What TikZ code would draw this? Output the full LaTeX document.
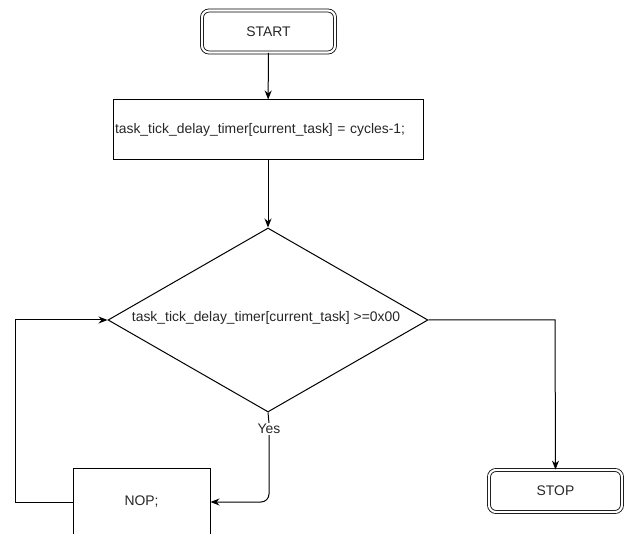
\documentclass[tikz,border=0pt]{standalone}
\usepackage{fontspec}
\setmainfont{Liberation Sans}
\usetikzlibrary{shapes.geometric,arrows.meta}
\begin{document}
\begin{tikzpicture}[x=1pt,y=-1pt,
  every node/.style={font=\fontsize{13.9}{15}\selectfont, text=black!85},
  terminal/.style={draw, rounded corners=7pt, double, double distance=2.2pt, line width=0.8pt,
    minimum width=133pt, minimum height=42pt, inner sep=0pt},
  procbox/.style={draw, line width=1pt, inner sep=0pt},
  decision/.style={draw, diamond, line width=1pt, inner sep=0pt, aspect=1.74,
    minimum width=320pt, minimum height=184pt},
  flow/.style={draw, line width=1pt, -{Stealth[length=9pt,width=7pt]}},
  link/.style={draw, line width=1pt}]
  \useasboundingbox (0,0) rectangle (626,534);

  % terminals, steps and the test
  \node[terminal] (start) at (268.5,31.5) {START};
  \node[procbox, minimum width=310pt, minimum height=60pt, text width=306pt,
        align=left] (init) at (268,130) {task\_tick\_delay\_timer[current\_task] = cycles-1;};
  \node[decision] (test) at (268,320) {};
  \node at (266,318) {task\_tick\_delay\_timer[current\_task] >=0x00};
  \node[procbox, minimum width=137pt, minimum height=68pt] (nop) at (141.5,502) {NOP;};
  \node[terminal] (stop) at (555.5,491) {STOP};
  \node[fill=white, inner sep=1pt] (yes) at (269,429) {Yes};
  \coordinate (loopL) at (15,502);
  \coordinate (loopT) at (15,320);
  \coordinate (exitR) at (555,320);

  % connectors
  \path[flow] (start) -- (init);
  \path[flow] (init) -- (test);
  \path[link] (test.south) -- (yes.north);
  \path[flow, rounded corners=8pt] (yes.south) |- (nop.east);
  \path[flow] (nop.west) -- (loopL) -- (loopT) -- (test.west);
  \path[flow] (test.east) -- (exitR) -- (stop.north);
\end{tikzpicture}
\end{document}
